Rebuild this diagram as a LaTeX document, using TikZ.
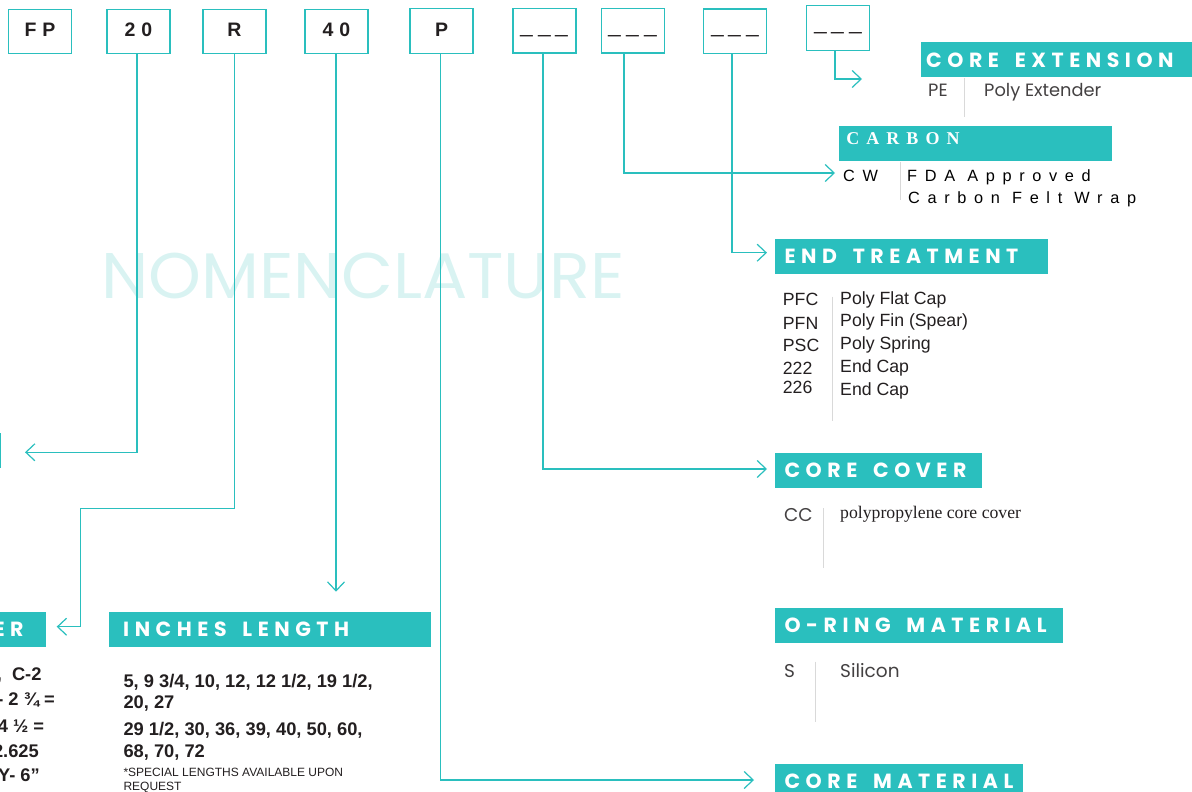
\documentclass[tikz,border=0pt]{standalone}
\usepackage{fontspec}
\usepackage{graphicx}
\setmainfont{Liberation Sans}
\usetikzlibrary{arrows.meta}
\newfontfamily\titlef[LetterSpace=27,WordSpace=1.6]{Poppins}
\newfontfamily\popf{Poppins}
\newfontfamily\serf{Liberation Serif}
\newfontfamily\carbf[LetterSpace=39]{Liberation Serif}
\newfontfamily\widesans[LetterSpace=47]{Liberation Sans}
\newfontfamily\topf[LetterSpace=30]{Liberation Sans}
\definecolor{tealc}{HTML}{2ABFBE}
\definecolor{wmc}{HTML}{D9F3F2}
\definecolor{sepc}{HTML}{D9D9D9}
\definecolor{txt}{HTML}{231F20}
\newcommand\lbox[2]{\makebox[#1][l]{#2}}
\newcommand\dsh{\scalebox{0.95}[1.5]{\_}}
\begin{document}
\begin{tikzpicture}[x=1pt,y=-1pt,
  topbox/.style={draw=tealc, line width=1.3pt, minimum width=63pt, minimum height=44.5pt,
    inner sep=0pt, text=txt, font=\topf\bfseries\fontsize{19.5}{20}\selectfont,
    text height=14pt, text depth=3.6pt},
  dashbox/.style={topbox, font=\bfseries\fontsize{24}{24}\selectfont, text depth=11pt},
  conn/.style={draw=tealc, line width=1.2pt,
    -{Straight Barb[length=9pt,width=17pt,line width=1.2pt]}},
  titlebox/.style={fill=tealc, text=white, anchor=north west, inner ysep=0pt,
    minimum height=34.7pt, font=\titlef\bfseries\fontsize{20.5}{21}\selectfont,
    text height=14.3pt, text depth=0pt},
  sepline/.style={draw=sepc, line width=0.9pt},
  bodyt/.style={inner sep=0pt, anchor=base west, text=txt},
  endt/.style={bodyt, font=\fontsize{17.7}{18}\selectfont},
  popt/.style={bodyt, font=\popf\fontsize{18.5}{19}\selectfont, text=txt!85},
  valt/.style={bodyt, font=\bfseries\fontsize{18.3}{19}\selectfont},
  cutt/.style={inner sep=0pt, anchor=base east, text=txt, font=\bfseries\fontsize{18.3}{19}\selectfont},
  widet/.style={bodyt, font=\widesans\fontsize{16.3}{17}\selectfont, text=black}
]
\useasboundingbox (0,0) rectangle (1192,792);
\clip (0,0) rectangle (1192,792);

% watermark
\node[anchor=south west, inner sep=0pt, text=wmc] (wm) at (101,299.5)
  {\resizebox{523pt}{45.5pt}{\popf NOMENCLATURE}};

% top code boxes
\node[topbox] (fp) at (40,31.5) {FP};
\node[topbox] (n20) at (138.5,31.5) {20};
\node[topbox] (nr) at (234.5,31.5) {R};
\node[topbox] (n40) at (336.5,31.5) {40};
\node[topbox] (np) at (441.5,31) {P};
\node[dashbox] (d1) at (544.5,30.7) {\dsh\kern5pt\dsh\kern5pt\dsh};
\node[dashbox] (d2) at (632.7,30.8) {\dsh\kern5pt\dsh\kern5pt\dsh};
\node[dashbox] (d3) at (735.3,31.3) {\dsh\kern5pt\dsh\kern5pt\dsh};
\node[dashbox] (d4) at (838.3,28) {\dsh\kern5pt\dsh\kern5pt\dsh};

% title boxes
\node[titlebox, inner xsep=3pt, minimum width=280pt] (ce) at (921,42.3) {\lbox{270pt}{CORE EXTENSION}};
\node[titlebox, inner xsep=7pt, minimum width=272.5pt, font=\carbf\bfseries\fontsize{18}{19}\selectfont,
  text height=12pt, text depth=10.7pt] (cb) at (839,126) {\lbox{258pt}{CARBON}};
\node[titlebox, inner xsep=9pt, minimum width=272.7pt] (et) at (775,239) {\lbox{254pt}{END TREATMENT}};
\node[titlebox, inner xsep=9pt, minimum width=206.7pt] (cc) at (775,453) {\lbox{188pt}{CORE COVER}};
\node[titlebox, inner xsep=9pt, minimum width=287.7pt] (orm) at (775,608) {\lbox{269pt}{O-RING MATERIAL}};
\node[titlebox, inner xsep=9pt, minimum width=247.7pt] (cm) at (775,763.3) {\lbox{229pt}{CORE MATERIAL}};
\node[titlebox, inner xsep=14pt, minimum width=322pt] (il) at (109,612) {\lbox{294pt}{INCHES LENGTH}};
\node[titlebox, anchor=north east, inner xsep=0pt, minimum width=90pt] (er) at (45.7,612)
  {\makebox[90pt][r]{ER\kern22pt}};
\node[fill=tealc, anchor=north east, inner sep=0pt, minimum width=12pt, minimum height=35pt] (lb) at (1.5,433) {};

% connector ends
\coordinate (e20) at (25,452.3);
\coordinate (bR1) at (80.7,508.3);
\coordinate (eR) at (56.7,626.7);
\coordinate (e40) at (336,591.7);
\coordinate (eP) at (754,780);
\coordinate (eCC) at (767,469);
\coordinate (eCW) at (835,173);
\coordinate (eET) at (767,252.7);
\coordinate (eCE) at (862,79);

\draw[conn] ([xshift=-1.5pt]n20.south) |- (e20);
\draw[conn] (nr.south) |- (bR1) |- (eR);
\draw[conn] ([xshift=-0.5pt]n40.south) -- (e40);
\draw[conn] ([xshift=-1pt]np.south) |- (eP);
\draw[conn] ([xshift=-1.5pt]d1.south) |- (eCC);
\draw[conn] ([xshift=-8.7pt]d2.south) |- (eCW);
\draw[conn] ([xshift=-3.3pt]d3.south) |- (eET);
\draw[conn] ([xshift=-3.3pt]d4.south) |- (eCE);

% core extension
\node[popt, font=\popf\fontsize{17.8}{18}\selectfont] (pe) at (928,96.7) {PE};
\node[popt, font=\popf\fontsize{17.8}{18}\selectfont] (ped) at (984,96.7) {Poly Extender};
\draw[sepline] (964,78) -- (964,117);

% carbon
\node[widet] (cw) at (843,181) {CW};
\node[widet] (cw1) at (907,181) {FDA Approved};
\node[widet] (cw2) at (908,203) {Carbon Felt Wrap};
\draw[sepline] (900,162) -- (900,200);

% end treatment
\node[endt] (t1) at (782.7,305) {PFC};
\node[endt] (t2) at (782.7,329.3) {PFN};
\node[endt] (t3) at (782.7,351.7) {PSC};
\node[endt] (t4) at (782.7,374) {222};
\node[endt] (t5) at (782.7,393.3) {226};
\node[endt] (u1) at (840,304) {Poly Flat Cap};
\node[endt] (u2) at (840,326.7) {Poly Fin (Spear)};
\node[endt] (u3) at (840,349.3) {Poly Spring};
\node[endt] (u4) at (840,372.7) {End Cap};
\node[endt] (u5) at (840,395.7) {End Cap};
\draw[sepline] (832.7,296.7) -- (832.7,420.7);

% core cover
\node[popt] (ccc) at (784,521.7) {CC};
\node[bodyt, font=\serf\fontsize{17.7}{18}\selectfont] (ccd) at (840,518.3) {polypropylene core cover};
\draw[sepline] (823,508) -- (823,568);

% o-ring
\node[popt] (os) at (784,677.3) {S};
\node[popt] (osd) at (840,677.3) {Silicon};
\draw[sepline] (815.7,661.7) -- (815.7,721.7);

% inches length
\node[valt] (v1) at (123.3,687.3) {5, 9 3/4, 10, 12, 12 1/2, 19 1/2,};
\node[valt] (v2) at (123.3,708.5) {20, 27};
\node[valt] (v3) at (123.3,735) {29 1/2, 30, 36, 39, 40, 50, 60,};
\node[valt] (v4) at (123.3,757.3) {68, 70, 72};
\node[bodyt, font=\fontsize{12}{12}\selectfont] (v5) at (123.3,776) {*SPECIAL LENGTHS AVAILABLE UPON};
\node[bodyt, font=\fontsize{12}{12}\selectfont] (v6) at (123.3,790) {REQUEST};

% cut-off text at left
\node[cutt] (c1) at (41.7,680) {,~ C-2};
\node[cutt] (c2) at (55,705) {- 2 ¾ =};
\node[cutt] (c3) at (44.3,732) {4 ½ =};
\node[cutt] (c4) at (39,757.7) {2.625};
\node[cutt] (c5) at (40,781.7) {Y- 6”};
\end{tikzpicture}
\end{document}
